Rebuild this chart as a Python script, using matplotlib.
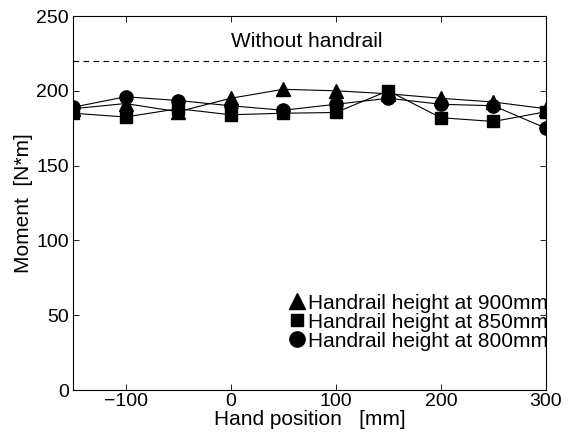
import matplotlib
matplotlib.use("Agg")
import matplotlib.pyplot as plt
from matplotlib.lines import Line2D

plt.rcParams['font.family'] = ['Liberation Sans', 'DejaVu Sans']

positions = [-150, -100, -50, 0, 50, 100, 150, 200, 250, 300]
h900 = [188, 191.5, 186, 195, 201, 200, 198, 195, 192.5, 188]
h850 = [185, 182.5, 188, 184, 185, 185.5, 200, 182, 179.5, 186]
h800 = [189, 196, 193.5, 190, 187, 191, 195, 191, 190, 175]
without_handrail = 220
labels = ['Handrail height at 900mm', 'Handrail height at 850mm', 'Handrail height at 800mm']

fig = plt.figure(figsize=(5.72, 4.36), dpi=100)
ax = fig.add_axes([0.1276, 0.1055, 0.8269, 0.8578])

ax.plot(positions, h900, color='k', lw=0.8, marker='^', ms=10)
ax.plot(positions, h850, color='k', lw=0.8, marker='s', ms=8.5)
ax.plot(positions, h800, color='k', lw=0.8, marker='o', ms=9.5)
ax.plot([positions[0], positions[-1]], [without_handrail] * 2, color='k', lw=0.8, ls=(0, (5, 4)))
ax.text(72, 233, 'Without handrail', ha='center', va='center', fontsize=15)

ax.set_xlim(-150, 300)
ax.set_ylim(0, 250)
ax.set_xticks([-100, 0, 100, 200, 300])
ax.set_yticks([0, 50, 100, 150, 200, 250])
ax.tick_params(direction='in', top=True, right=True, labelsize=14, length=4, width=0.6)
ax.tick_params(axis='x', pad=2)
ax.tick_params(axis='y', pad=3)
for s in ax.spines.values():
    s.set_linewidth(0.8)
ax.set_xlabel('Hand position   [mm]', fontsize=15, labelpad=0)
ax.set_ylabel('Moment  [N*m]', fontsize=15, labelpad=2)

handles = [Line2D([], [], color='k', marker=m, ls='none', ms=s) for m, s in [('^', 11), ('s', 9), ('o', 11)]]
ax.legend(handles, labels, loc='lower right', frameon=False, fontsize=15,
          handlelength=0.6, handletextpad=0.25, labelspacing=0.0, borderaxespad=0.0,
          borderpad=0.0, bbox_to_anchor=(1.005, 0.105))

fig.savefig('out.png', dpi=100)
